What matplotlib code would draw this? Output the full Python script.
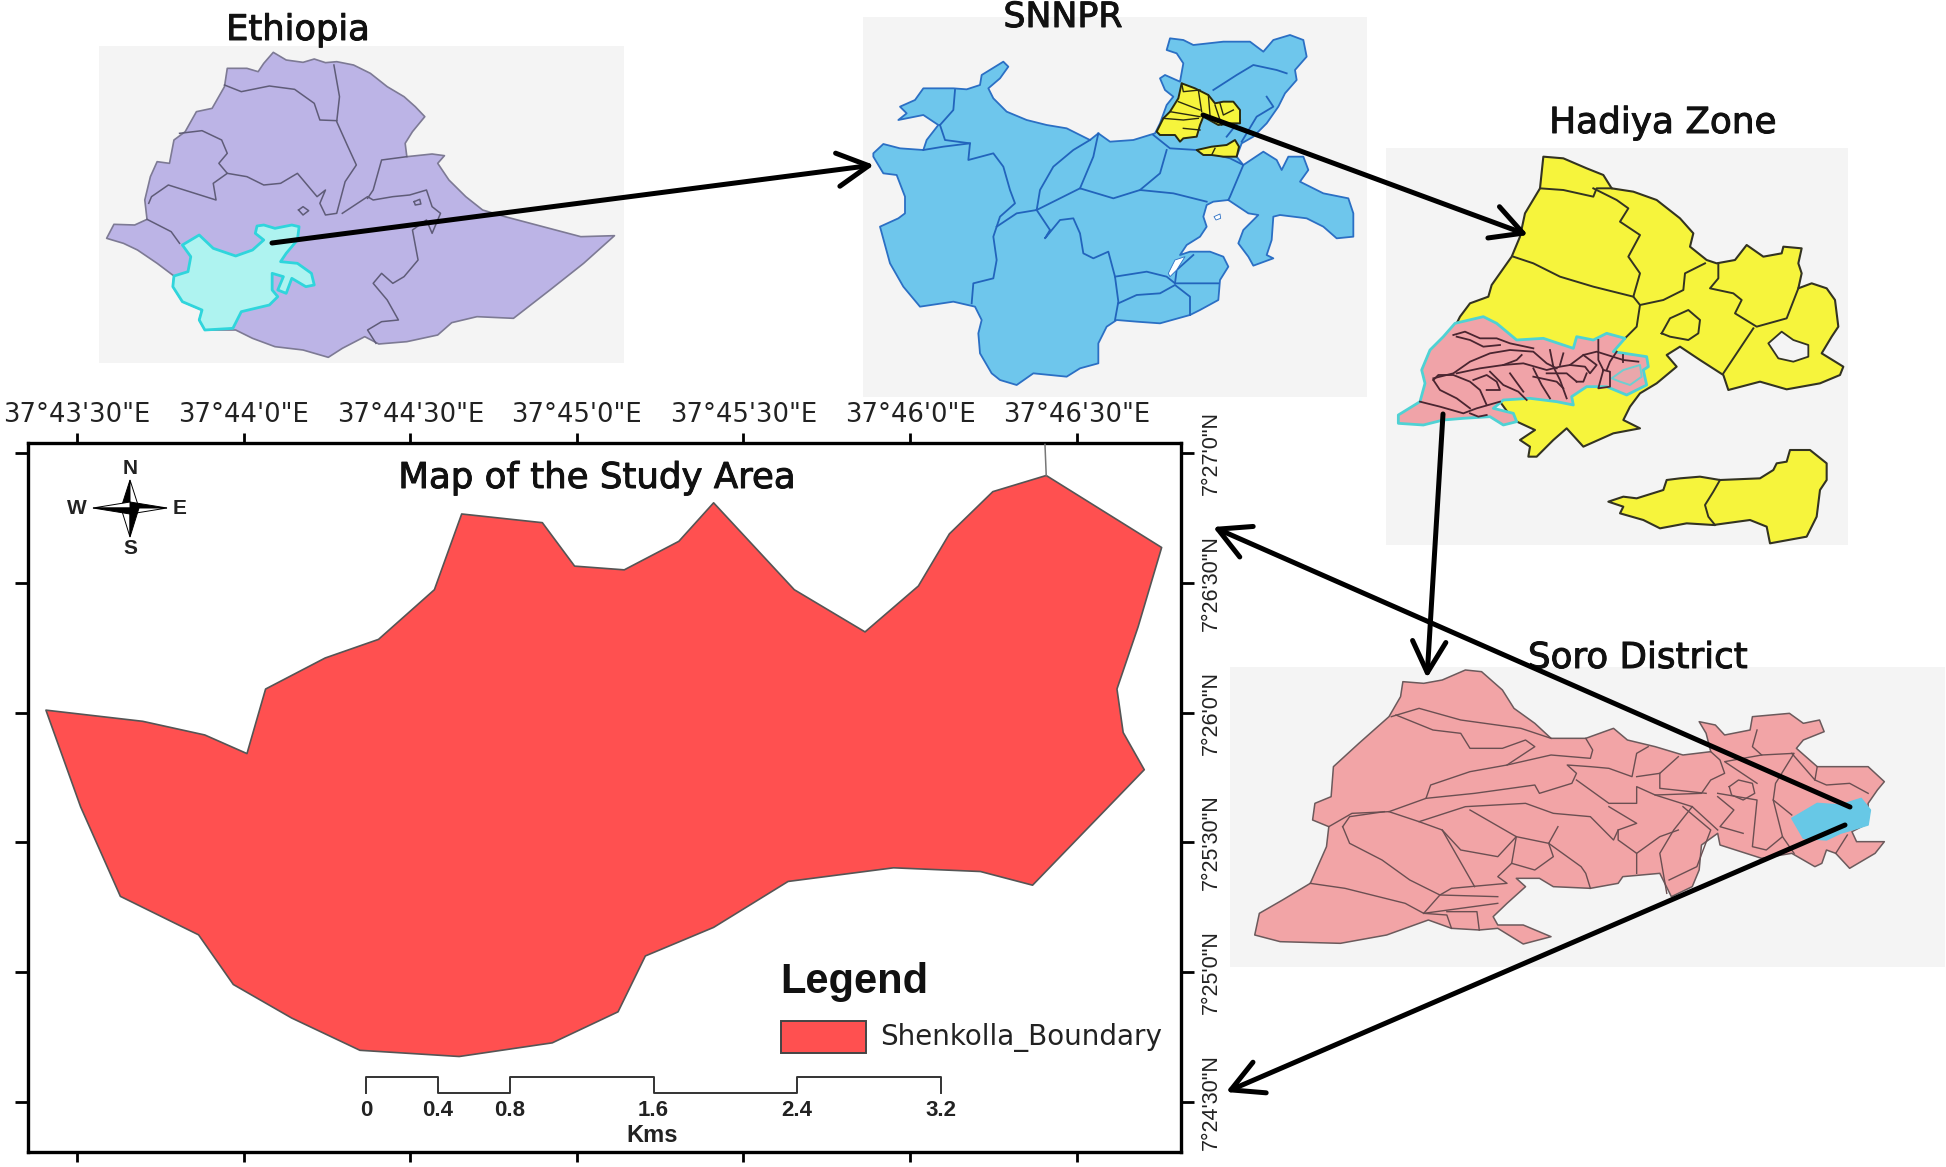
import matplotlib

matplotlib.use("Agg")
import matplotlib.patheffects as pe
import matplotlib.pyplot as plt
import numpy as np

W, H = 1946, 1167

# --- main map values ---
LON_MIN = [43.5, 44.0, 44.5, 45.0, 45.5, 46.0, 46.5]
LON_LABELS = ["37°43'30\"E", "37°44'0\"E", "37°44'30\"E", "37°45'0\"E", "37°45'30\"E", "37°46'0\"E", "37°46'30\"E"]
LAT_MIN = [27.0, 26.5, 26.0, 25.5, 25.0, 24.5]
LAT_LABELS = ["7°27'0\"N", "7°26'30\"N", "7°26'0\"N", "7°25'30\"N", "7°25'0\"N", "7°24'30\"N"]
SCALE_KM = [0, 0.4, 0.8, 1.6, 2.4, 3.2]
SCALE_LABELS = ["0", "0.4", "0.8", "1.6", "2.4", "3.2"]

# outlines
SHENKOLLA = [(37, 572), (115, 581), (165, 592), (199, 607), (214, 555), (262, 530), (305, 515), (350, 475), (372, 414),
             (437, 421), (463, 456), (503, 459), (547, 436), (575, 405), (640, 475), (697, 509), (740, 472), (765, 430),
             (800, 396), (843, 383), (936, 441), (917, 505), (900, 555), (905, 590), (922, 620), (832, 713), (790, 702),
             (720, 699), (635, 710), (575, 747), (520, 770), (498, 815), (445, 840), (370, 851), (290, 846), (235, 820),
             (188, 793), (160, 753), (97, 722), (65, 650)]

ETHIOPIA = [(487, 157), (510, 180), (540, 187), (560, 177), (580, 188), (600, 185), (630, 195), (660, 220), (690, 260),
            (720, 290), (740, 320), (757, 350), (735, 395), (722, 430), (725, 470), (770, 462), (792, 467), (780, 490),
            (800, 540), (830, 590), (860, 630), (900, 650), (1035, 710), (1095, 707), (1040, 790), (980, 870), (915, 955),
            (850, 950), (805, 968), (780, 1005), (725, 1025), (675, 1032), (650, 1010), (610, 1045), (585, 1072),
            (540, 1050), (490, 1040), (450, 1015), (420, 990), (365, 990), (355, 960), (360, 930), (325, 905), (308, 860),
            (310, 828), (280, 790), (245, 750), (220, 730), (190, 715), (203, 673), (240, 675), (262, 658), (258, 600),
            (268, 530), (280, 485), (302, 490), (310, 420), (330, 395), (350, 335), (378, 325), (400, 260), (405, 205),
            (440, 205), (460, 215), (470, 190)]
ETHIOPIA_LINES = [
    [(400, 255), (430, 275), (480, 258), (525, 268), (560, 310), (570, 360), (600, 362)],
    [(595, 195), (605, 290), (600, 365), (620, 440), (635, 495), (615, 545), (600, 640), (580, 645), (570, 610),
     (580, 570), (565, 590), (530, 520), (500, 550), (470, 555), (440, 530), (405, 520)],
    [(320, 400), (360, 392), (395, 420), (405, 460), (390, 490), (405, 520), (380, 550), (385, 600), (300, 555),
     (270, 590), (265, 610)],
    [(610, 640), (655, 590), (665, 600), (700, 590), (730, 585), (760, 570), (770, 620), (785, 640), (770, 700),
     (760, 660), (735, 690), (745, 780), (720, 830), (700, 850), (680, 820), (665, 850), (690, 900), (710, 960),
     (680, 965), (655, 990), (670, 1030)],
    [(725, 470), (680, 480), (665, 570), (655, 595)],
    [(262, 658), (305, 695), (320, 730)],
    [(532, 630), (540, 620), (550, 632), (540, 645), (532, 630)],
    [(738, 605), (748, 598), (750, 612), (740, 615), (738, 605)],
]
ETHIOPIA_SNNPR = [(458, 678), (470, 675), (490, 685), (520, 675), (533, 680), (530, 720), (510, 760), (500, 785),
                  (530, 790), (555, 820), (560, 855), (545, 860), (520, 835), (510, 880), (495, 870), (505, 830),
                  (485, 820), (485, 870), (495, 890), (480, 915), (430, 935), (415, 985), (365, 990), (355, 960),
                  (360, 930), (325, 905), (308, 860), (310, 828), (335, 815), (340, 770), (325, 735), (355, 705),
                  (380, 745), (420, 768), (450, 750), (470, 720), (455, 700)]

SNNPR = [(40, 460), (70, 432), (120, 445), (190, 450), (200, 420), (235, 375), (190, 345), (115, 360), (140, 340),
         (120, 320), (165, 300), (190, 265), (235, 265), (280, 265), (320, 268), (360, 255), (365, 225), (430, 185),
         (445, 200), (420, 235), (385, 265), (400, 295), (440, 335), (500, 360), (560, 375), (620, 385), (690, 420),
         (715, 400), (750, 425), (820, 420), (885, 400), (900, 370), (920, 315), (940, 290), (915, 270), (900, 235),
         (915, 225), (960, 245), (970, 190), (950, 160), (920, 150), (930, 115), (970, 120), (1000, 135), (1090, 125),
         (1170, 125), (1210, 155), (1240, 120), (1290, 105), (1330, 120), (1340, 170), (1305, 210), (1310, 240),
         (1275, 280), (1255, 320), (1220, 370), (1180, 410), (1145, 430), (1130, 470), (1150, 495), (1210, 455),
         (1250, 480), (1265, 510), (1285, 470), (1330, 470), (1345, 510), (1320, 545), (1390, 580), (1465, 595),
         (1480, 640), (1480, 710), (1430, 715), (1390, 680), (1340, 655), (1260, 645), (1240, 650), (1235, 720),
         (1220, 765), (1240, 775), (1180, 797), (1165, 770), (1135, 730), (1150, 690), (1195, 645), (1165, 640),
         (1105, 600), (1060, 605), (1040, 615), (1030, 650), (1040, 680), (1020, 710), (980, 735), (960, 765),
         (990, 755), (1050, 755), (1090, 770), (1105, 800), (1080, 840), (1075, 900), (1020, 930), (990, 945),
         (900, 970), (830, 965), (770, 960), (740, 980), (715, 1030), (715, 1090), (660, 1105), (620, 1130), (520, 1120),
         (470, 1155), (420, 1140), (395, 1120), (360, 1060), (355, 1000), (365, 960), (345, 920), (280, 905), (180, 920),
         (130, 860), (90, 790), (60, 680), (115, 655), (135, 640), (135, 590), (110, 525), (70, 520), (40, 470)]
SNNPR_LINES = [
    [(190, 450), (250, 440), (330, 430), (325, 480), (400, 460), (430, 500), (450, 570), (465, 610), (420, 650),
     (400, 710), (410, 780), (400, 835), (340, 850), (335, 910)],
    [(240, 375), (280, 330), (285, 270)],
    [(240, 375), (255, 420), (330, 430)],
    [(690, 420), (640, 450), (580, 500), (540, 570), (530, 630), (470, 640), (410, 680)],
    [(530, 630), (660, 565), (760, 595), (840, 570), (940, 580), (1040, 605)],
    [(715, 400), (700, 470), (660, 565)],
    [(920, 450), (900, 520), (840, 570)],
    [(880, 405), (930, 445), (1010, 450), (1110, 475), (1150, 495), (1110, 590), (1105, 600)],
    [(530, 630), (570, 690), (555, 715), (600, 660), (640, 655), (660, 700), (670, 760), (700, 775), (745, 755),
     (765, 830), (775, 905), (765, 960)],
    [(765, 830), (860, 815), (920, 830), (945, 850), (1000, 850), (1075, 850)],
    [(775, 910), (830, 885), (900, 880), (945, 855), (990, 890), (990, 945)],
    [(945, 850), (950, 810), (1000, 765)],
    [(1060, 270), (1130, 225), (1180, 195), (1250, 210), (1280, 220)],
    [(1145, 425), (1190, 350), (1240, 320), (1220, 290)],
    [(1100, 410), (1140, 360)],
]
SNNPR_HOLES = [[(925, 820), (945, 780), (975, 770), (950, 810), (930, 830)],
               [(1062, 650), (1080, 642), (1082, 655), (1068, 660)]]
SNNPR_HADIYA = [[(50, 215), (70, 175), (90, 155), (115, 115), (125, 70), (165, 85), (205, 105), (225, 130), (250, 125),
                 (280, 125), (300, 150), (300, 190), (270, 190), (235, 195), (190, 170), (180, 195), (170, 230),
                 (130, 235), (120, 245), (105, 225), (60, 225)],
                [(170, 270), (215, 260), (260, 255), (285, 240), (297, 260), (290, 290), (250, 290), (215, 285), (190, 285)]]
SNNPR_HADIYA_LINES = [[(125, 70), (130, 95), (180, 90)], [(115, 125), (180, 150)], [(90, 155), (180, 170)],
                      [(70, 175), (130, 180), (175, 175)], [(175, 90), (185, 155)], [(205, 105), (210, 165)],
                      [(240, 130), (250, 165), (280, 150)], [(130, 205), (180, 210)], [(225, 135), (245, 195)],
                      [(225, 265), (215, 285)]]

HADIYA = [(490, 170), (550, 175), (620, 205), (670, 225), (695, 265), (760, 275), (830, 300), (900, 355), (940, 400),
          (930, 440), (980, 480), (1010, 490), (1065, 480), (1100, 435), (1150, 470), (1205, 460), (1210, 440),
          (1265, 445), (1255, 490), (1265, 520), (1255, 565), (1295, 550), (1340, 565), (1365, 600), (1375, 680),
          (1355, 710), (1325, 760), (1390, 800), (1380, 825), (1320, 850), (1220, 868), (1140, 845), (1045, 870),
          (1030, 825), (960, 780), (900, 740), (860, 765), (890, 800), (830, 850), (780, 880), (750, 920), (730, 960),
          (780, 985), (700, 1000), (610, 1040), (560, 985), (520, 1020), (470, 1070), (445, 1070), (450, 1040),
          (420, 1020), (465, 990), (400, 960), (360, 905), (230, 670), (240, 650), (270, 610), (325, 590), (335, 555),
          (395, 470), (420, 410), (435, 340), (480, 265)]
HADIYA_ISLAND = [(685, 1205), (730, 1190), (770, 1195), (850, 1170), (860, 1140), (900, 1135), (960, 1130), (1020, 1140),
                 (1140, 1135), (1180, 1110), (1190, 1090), (1220, 1085), (1230, 1050), (1290, 1050), (1340, 1090),
                 (1340, 1140), (1320, 1170), (1310, 1250), (1280, 1310), (1170, 1330), (1160, 1280), (1110, 1260),
                 (1000, 1275), (920, 1270), (840, 1285), (790, 1260), (720, 1240), (730, 1220)]
HADIYA_LINES = [
    [(480, 265), (550, 270), (640, 290), (650, 265), (695, 265)],
    [(640, 265), (710, 300), (745, 325), (720, 365), (780, 405), (745, 470), (780, 520), (760, 590), (780, 615),
     (770, 680), (735, 715)],
    [(400, 470), (460, 490), (540, 530), (640, 560), (760, 590)],
    [(780, 615), (850, 600), (910, 570), (915, 520), (975, 490)],
    [(1015, 490), (1015, 535), (990, 565), (1060, 580), (1085, 600), (1065, 640), (1130, 680), (1220, 655), (1255, 565)],
    [(1120, 685), (1070, 760), (1030, 820)],
    [(845, 700), (870, 655), (925, 630), (960, 660), (955, 700), (925, 720), (870, 710), (845, 700)],
    [(1020, 1140), (1000, 1175), (975, 1215), (985, 1250), (1005, 1275)],
]
HADIYA_HOLE = [(1165, 730), (1205, 695), (1240, 720), (1285, 735), (1285, 770), (1240, 785), (1195, 775)]
HADIYA_SORO = [(225, 670), (310, 650), (350, 670), (410, 720), (490, 715), (580, 745), (590, 710), (640, 720), (680, 700),
               (735, 715), (700, 755), (800, 770), (805, 800), (790, 810), (800, 855), (740, 885), (680, 860), (620, 860),
               (575, 890), (580, 915), (530, 905), (450, 895), (370, 900), (340, 925), (400, 940), (410, 965), (370, 975),
               (330, 950), (250, 955), (190, 960), (130, 975), (55, 970), (55, 945), (120, 905), (135, 850), (125, 810),
               (150, 750), (190, 710)]
HADIYA_SORO_LINES = [
    [(190, 75), (225, 65), (270, 85), (320, 85), (360, 100), (430, 115)],
    [(200, 80), (240, 90), (280, 110), (330, 105)],
    [(130, 205), (190, 190), (240, 155), (300, 130), (360, 120), (430, 125), (470, 160), (500, 175)],
    [(200, 190), (270, 175), (340, 165), (400, 160), (470, 180), (510, 170), (540, 165), (580, 135), (620, 125), (700, 150), (745, 155)],
    [(130, 210), (145, 195), (190, 195), (240, 215), (270, 240), (290, 285)],
    [(130, 210), (150, 240), (200, 265), (240, 295)],
    [(90, 275), (150, 290), (220, 310), (260, 295), (330, 275)],
    [(250, 210), (290, 195), (320, 215), (330, 240), (290, 240)],
    [(340, 165), (380, 150), (395, 135)],
    [(300, 185), (340, 225), (385, 245), (410, 270)],
    [(360, 190), (400, 245)],
    [(430, 175), (455, 225), (480, 265)],
    [(480, 120), (490, 170), (510, 210), (530, 265)],
    [(470, 190), (530, 190), (560, 215)],
    [(430, 200), (500, 215), (520, 235)],
    [(580, 135), (600, 150), (620, 165), (600, 190), (585, 170), (540, 165)],
    [(625, 90), (625, 125), (625, 150), (640, 180), (625, 235), (660, 230), (660, 185), (640, 180)],
    [(680, 125), (660, 155), (650, 180)],
    [(520, 130), (510, 165)],
    [(590, 190), (580, 215), (560, 215)],
    [(700, 135), (700, 155)],
    [(240, 310), (265, 320), (290, 315)],
]
HADIYA_SORO_INNER = [(665, 205), (700, 180), (750, 165), (755, 200), (720, 225), (690, 215)]

SORO = [(395, 125), (440, 130), (480, 120), (530, 90), (565, 95), (610, 150), (635, 205), (680, 250), (715, 295), (790, 295),
        (850, 265), (880, 300), (940, 320), (1000, 345), (1060, 335), (1050, 280), (1035, 245), (1070, 255), (1090, 285),
        (1145, 270), (1150, 230), (1230, 220), (1260, 250), (1295, 240), (1305, 275), (1260, 300), (1245, 325), (1290, 380),
        (1400, 380), (1435, 425), (1420, 450), (1400, 490), (1400, 550), (1365, 575), (1375, 605), (1435, 605), (1415, 640),
        (1360, 685), (1330, 640), (1310, 630), (1300, 670), (1285, 680), (1235, 640), (1170, 655), (1080, 615), (1075, 580),
        (1040, 615), (1035, 690), (1020, 740), (975, 770), (950, 700), (870, 710), (860, 730), (800, 745), (720, 740),
        (690, 715), (640, 715), (660, 740), (620, 790), (590, 830), (600, 855), (655, 855), (715, 890), (655, 912), (600, 865),
        (560, 870), (500, 865), (450, 840), (360, 885), (260, 910), (130, 905), (75, 885), (85, 820), (135, 780), (195, 730),
        (230, 620), (235, 560), (200, 540), (205, 490), (240, 470), (245, 380), (300, 310), (365, 230), (390, 170)]
SORO_SHENKOLLA = [(1235, 535), (1290, 490), (1340, 495), (1385, 475), (1405, 510), (1400, 555), (1365, 570), (1340, 580),
                  (1310, 600), (1260, 595)]
SORO_LINES = [
    [(370, 230), (430, 205), (520, 240), (650, 265), (715, 295)],
    [(380, 225), (460, 270), (520, 280), (540, 325), (610, 325), (660, 300), (680, 320), (620, 375)],
    [(790, 295), (805, 330), (800, 355), (715, 345), (620, 375), (540, 395), (455, 435), (445, 475), (365, 515), (285, 520),
     (235, 560)],
    [(445, 475), (550, 460), (680, 435), (690, 460), (760, 430), (770, 400), (750, 375), (800, 380), (840, 385), (890, 410),
     (900, 340), (925, 320)],
    [(770, 420), (840, 490), (900, 490), (900, 440), (940, 465), (1040, 460), (1060, 420), (1090, 400), (1080, 360), (1060, 335)],
    [(900, 410), (950, 400), (990, 350)],
    [(950, 400), (950, 445), (1050, 460)],
    [(365, 515), (430, 545), (530, 500), (660, 490), (720, 520), (800, 530), (850, 600), (860, 570), (900, 550), (840, 500)],
    [(265, 560), (280, 530), (355, 515)],
    [(265, 560), (280, 610), (350, 660), (410, 720), (475, 765), (600, 770)],
    [(430, 545), (480, 570), (550, 740)],
    [(480, 570), (520, 630), (600, 650), (640, 590), (540, 510)],
    [(640, 590), (630, 670), (600, 710), (620, 730), (500, 745), (475, 765), (440, 820)],
    [(730, 560), (710, 610), (780, 680), (790, 700), (800, 745)],
    [(640, 590), (710, 610)],
    [(630, 670), (680, 690), (720, 650), (710, 610)],
    [(195, 730), (270, 745), (400, 790), (440, 820), (490, 825), (500, 865)],
    [(440, 820), (600, 790)],
    [(490, 815), (555, 815), (560, 870)],
    [(1000, 500), (1060, 570), (1030, 680), (970, 720)],
    [(1020, 500), (980, 570), (950, 640), (965, 760)],
    [(860, 570), (860, 600), (900, 640), (900, 700)],
    [(900, 640), (950, 590), (990, 570)],
    [(940, 465), (1020, 500), (1075, 570)],
    [(1075, 470), (1110, 510), (1080, 560), (1130, 580)],
    [(1075, 460), (1160, 480), (1150, 620), (1180, 630), (1215, 590), (1195, 480), (1200, 430), (1240, 340), (1170, 345),
     (1150, 320), (1160, 270)],
    [(1170, 345), (1090, 365), (1160, 430)],
    [(1100, 440), (1120, 420), (1150, 430), (1155, 460), (1130, 480), (1105, 465), (1100, 440)],
    [(1195, 480), (1235, 525)],
    [(1290, 380), (1285, 420), (1235, 340)],
    [(1285, 420), (1310, 435), (1360, 430), (1400, 460)],
    [(1215, 590), (1240, 640)],
    [(1355, 585), (1330, 640)],
]

# origin and scale of the tracing each outline was read in
ETH_CROP = (0, 0, 1.782, 3)
SNN_CROP = (860, 0, 3, 3)
YEL_CROP = (1140, 60, 3, 3)
HAD_CROP = (1380, 100, 3, 3)
PNK_CROP = (1390, 310, 3, 3)
SOR_CROP = (1220, 640, 2.16, 3)
MAP_CROP = (0, 0, 1568 / W, 940 / H)

HEAVY = [pe.withStroke(linewidth=0.7, foreground="#111111")]


def px(pts, crop):
    a = np.asarray(pts, dtype=float)
    return np.column_stack([crop[0] + a[:, 0] / crop[2], crop[1] + a[:, 1] / crop[3]])


def fill(ax, pts, crop, face, edge, lw=1.0, z=3):
    ax.fill(*px(pts, crop).T, facecolor=face, edgecolor=edge, linewidth=lw, zorder=z, joinstyle="round")


def lines(ax, groups, crop, color, lw=1.0, z=4):
    for g in groups:
        ax.plot(*px(g, crop).T, color=color, lw=lw, zorder=z, solid_joinstyle="round")


def panel(ax, x0, y0, x1, y1):
    ax.fill([x0, x1, x1, x0], [y0, y0, y1, y1], color="#f4f4f4", lw=0, zorder=1)


def arrow(ax, start, end):
    ax.annotate("", xy=end, xytext=start, zorder=10,
                arrowprops=dict(arrowstyle="->,head_length=0.75,head_width=0.4", color="black", lw=3.6,
                                shrinkA=0, shrinkB=0, mutation_scale=30))


def title(ax, x, y, s, size, va="center"):
    ax.text(x, y, s, ha="center", va=va, family="DejaVu Sans", fontsize=size, color="#111111", path_effects=HEAVY)


plt.rcParams["font.family"] = ["Liberation Sans", "DejaVu Sans"]
fig = plt.figure(figsize=(W / 100, H / 100), dpi=100, facecolor="white")

# map frame with graticule ticks; limits put ticks on the printed positions
x_l, x_r, y_t, y_b = 28, 1181, 443, 1152
amap = fig.add_axes([x_l / W, 1 - y_b / H, (x_r - x_l) / W, (y_b - y_t) / H])
per_lon = (910 - 77) / (46.0 - 43.5)
per_lat = (1102 - 453) / (27.0 - 24.5)
amap.set_xlim(43.5 - (77 - x_l) / per_lon, 43.5 + (x_r - 77) / per_lon)
amap.set_ylim(27.0 - (y_b - 453) / per_lat, 27.0 + (453 - y_t) / per_lat)
amap.set_xticks(LON_MIN)
amap.set_yticks(LAT_MIN)
amap.tick_params(axis="x", length=7.5, width=2, top=True, bottom=True, labeltop=True, labelbottom=False, pad=3)
amap.tick_params(axis="y", length=9.5, width=2, left=True, right=True, labelleft=False, labelright=True, pad=5)
amap.set_xticklabels(LON_LABELS, family="DejaVu Sans", fontsize=18.6, color="#222222")
amap.set_yticklabels(LAT_LABELS, rotation=90, va="center", fontsize=15.5, color="#222222")
for s in amap.spines.values():
    s.set_linewidth(2.4)

# everything else is laid out in picture pixels
ax = fig.add_axes([0, 0, 1, 1], facecolor="none")
ax.set_xlim(0, W)
ax.set_ylim(H, 0)
ax.axis("off")

# Ethiopia
panel(ax, 99, 46, 624, 363)
fill(ax, ETHIOPIA, ETH_CROP, "#bcb4e6", "#7d7a94", 1.2)
lines(ax, ETHIOPIA_LINES, ETH_CROP, "#5f5c78", 1.1)
fill(ax, ETHIOPIA_SNNPR, ETH_CROP, "#aef3f0", "#2fd5dc", 2.0, z=5)
title(ax, 298, 30, "Ethiopia", 25.4)

# SNNPR
panel(ax, 863, 17, 1367, 397)
fill(ax, SNNPR, SNN_CROP, "#6ec6ec", "#2b6fc4", 1.3)
lines(ax, SNNPR_LINES, SNN_CROP, "#2264bc", 1.3)
for h in SNNPR_HOLES:
    fill(ax, h, SNN_CROP, "#ffffff", "#2b6fc4", 0.6, z=5)
for p in SNNPR_HADIYA:
    fill(ax, p, YEL_CROP, "#f6f43c", "#2a2a10", 1.4, z=5)
lines(ax, SNNPR_HADIYA_LINES, YEL_CROP, "#2a2a10", 1.0, z=6)
title(ax, 1063, 27, "SNNPR", 25, va="baseline")

# Hadiya
panel(ax, 1386, 148, 1848, 545)
fill(ax, HADIYA, HAD_CROP, "#f6f43c", "#333322", 1.5)
fill(ax, HADIYA_ISLAND, HAD_CROP, "#f6f43c", "#333322", 1.5)
lines(ax, HADIYA_LINES, HAD_CROP, "#333322", 1.4)
fill(ax, HADIYA_HOLE, HAD_CROP, "#f4f4f4", "#333322", 1.3, z=5)
fill(ax, HADIYA_SORO, HAD_CROP, "#f0a3a8", "#4fd2d4", 2.0, z=6)
fill(ax, HADIYA_SORO_INNER, PNK_CROP, "#e9a7ab", "#6fcfd0", 1.4, z=7)
lines(ax, HADIYA_SORO_LINES, PNK_CROP, "#4a2530", 1.3, z=8)
title(ax, 1663, 123, "Hadiya Zone", 25.8)

# Soro
panel(ax, 1230, 667, 1945, 967)
fill(ax, SORO, SOR_CROP, "#f2a4a6", "#6b5a5c", 1.1)
lines(ax, SORO_LINES, SOR_CROP, "#6b4f52", 1.0)
fill(ax, SORO_SHENKOLLA, SOR_CROP, "#67c8e6", "#67c8e6", 1.0, z=5)
title(ax, 1638, 658, "Soro District", 25.7)

# study area
fill(ax, SHENKOLLA, MAP_CROP, "#ff5050", "#555555", 1.2, z=3)
top = px([(843, 383), (842, 358)], MAP_CROP)
ax.plot(top[:, 0], top[:, 1], color="#777777", lw=1.1, zorder=3)
title(ax, 597, 478, "Map of the Study Area", 25.6)

# north arrow
cx, cy = 130, 508
for dx, dy, c1, c2 in [(0, -28, "black", "white"), (37, 0, "black", "white"), (0, 29, "white", "black"), (-37, 0, "white", "black")]:
    ox, oy = (9, 0) if dx == 0 else (0, 6)
    ax.fill([cx, cx + dx, cx - ox], [cy, cy + dy, cy - oy], facecolor=c1, edgecolor="black", lw=0.7, zorder=5)
    ax.fill([cx, cx + dx, cx + ox], [cy, cy + dy, cy + oy], facecolor=c2, edgecolor="black", lw=0.7, zorder=5)
for t, tx, ty in [("N", 130, 468), ("S", 130, 549), ("W", 77, 508), ("E", 180, 508)]:
    ax.text(tx, ty, t, ha="center", va="center", fontsize=15, fontweight="bold", color="#222222")

# legend
ax.text(854, 982, "Legend", ha="center", va="center", fontsize=30, fontweight="bold", color="#111111")
ax.fill([781, 866, 866, 781], [1021, 1021, 1053, 1053], facecolor="#ff5050", edgecolor="#444444", lw=1.4, zorder=3)
ax.text(880, 1037, "Shenkolla_Boundary", ha="left", va="center", family="DejaVu Sans", fontsize=20, color="#222222")

# scale bar, alternating up and down per segment
km0, km_px = 366, (941 - 366) / SCALE_KM[-1]
y_hi, y_lo = 1077, 1093
xs, ys = [km0], [y_lo]
for i in range(len(SCALE_KM) - 1):
    level = y_hi if i % 2 == 0 else y_lo
    xs += [km0 + SCALE_KM[i] * km_px, km0 + SCALE_KM[i + 1] * km_px]
    ys += [level, level]
xs.append(xs[-1])
ys.append(y_lo)
ax.plot(xs, ys, color="#333333", lw=1.4, zorder=3)
for km, lab in zip(SCALE_KM, SCALE_LABELS):
    ax.text(km0 + km * km_px, 1111, lab, ha="center", va="center", fontsize=16, fontweight="bold", color="#222222")
ax.text(652, 1136, "Kms", ha="center", va="center", fontsize=17, fontweight="bold", color="#222222")

# pointer arrows
arrow(ax, (272, 243), (874, 165))
arrow(ax, (1203, 115), (1528, 235))
arrow(ax, (1443, 414), (1427, 678))
arrow(ax, (1850, 807), (1213, 527))
arrow(ax, (1845, 825), (1226, 1092))

fig.savefig("out.png", dpi=100, facecolor="white")
plt.close(fig)
